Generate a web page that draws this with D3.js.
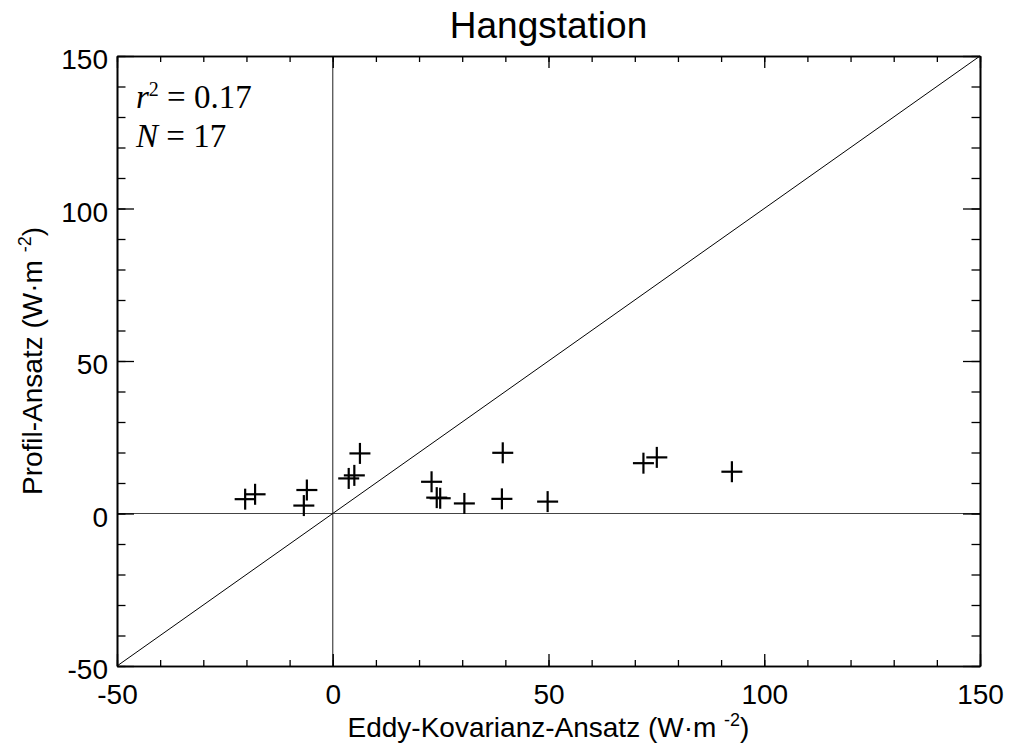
<!DOCTYPE html>
<html>
<head>
<meta charset="utf-8">
<script src="https://cdn.jsdelivr.net/npm/d3@7"></script>
<style>
html,body{margin:0;padding:0;background:#fff;}
svg{display:block;}
</style>
</head>
<body>
<svg id="chart" width="1010" height="745"></svg>
<script>
const eddyX = [-20.3, -18.0, -6.0, -6.7, 3.7, 5.0, 6.3, 22.9, 24.1, 24.9, 30.5, 39.4, 39.2, 49.8, 72.0, 75.1, 92.5];
const profilY = [4.7, 6.3, 7.7, 2.6, 11.5, 12.5, 19.7, 10.4, 5.2, 5.0, 3.3, 19.9, 4.8, 3.9, 16.5, 18.4, 13.7];
const majorTicks = [-50, 0, 50, 100, 150];
const minorTicks = d3.range(-50, 151, 10);
const titleText = "Hangstation";
const xTitle = "Eddy-Kovarianz-Ansatz (W·m";
const yTitle = "Profil-Ansatz (W·m";
const unitSup = "-2";
const statR2 = "0.17";
const statN = "17";

const L = 117, R = 980, T = 56, B = 666;
const svg = d3.select("#chart");
const x = d3.scaleLinear().domain([-50, 150]).range([L, R]);
const y = d3.scaleLinear().domain([-50, 150]).range([B, T]);
const font = "'Liberation Sans', Arial, sans-serif";

// zero lines and diagonal
svg.append("line").attr("x1", x(0)).attr("x2", x(0)).attr("y1", T).attr("y2", B)
  .attr("stroke", "#444").attr("stroke-width", 1.2);
svg.append("line").attr("x1", L).attr("x2", R).attr("y1", y(0)).attr("y2", y(0))
  .attr("stroke", "#444").attr("stroke-width", 1.2);
svg.append("line").attr("x1", x(-50)).attr("y1", y(-50)).attr("x2", x(150)).attr("y2", y(150))
  .attr("stroke", "#000").attr("stroke-width", 1);

function styleAxis(g){
  g.select(".domain").attr("stroke", "#000").attr("stroke-width", 1.6);
  g.selectAll(".tick line").attr("stroke", "#000").attr("stroke-width", 1.3);
}
const fmt = d => String(d);
const xMinLen = 6, xMajLen = 12, yMinLen = 8.5, yMajLen = 17;
// minor ticks
svg.append("g").attr("transform", `translate(0,${B})`)
  .call(d3.axisBottom(x).tickValues(minorTicks).tickSize(-xMinLen).tickSizeOuter(0).tickFormat(""))
  .call(styleAxis);
svg.append("g").attr("transform", `translate(0,${T})`)
  .call(d3.axisTop(x).tickValues(minorTicks).tickSize(-xMinLen).tickSizeOuter(0).tickFormat(""))
  .call(styleAxis);
svg.append("g").attr("transform", `translate(${L},0)`)
  .call(d3.axisLeft(y).tickValues(minorTicks).tickSize(-yMinLen).tickSizeOuter(0).tickFormat(""))
  .call(styleAxis);
svg.append("g").attr("transform", `translate(${R},0)`)
  .call(d3.axisRight(y).tickValues(minorTicks).tickSize(-yMinLen).tickSizeOuter(0).tickFormat(""))
  .call(styleAxis);

// major ticks with labels
const gxb = svg.append("g").attr("transform", `translate(0,${B})`)
  .call(d3.axisBottom(x).tickValues(majorTicks).tickSize(-xMajLen).tickSizeOuter(0).tickPadding(18).tickFormat(fmt))
  .call(styleAxis);
svg.append("g").attr("transform", `translate(0,${T})`)
  .call(d3.axisTop(x).tickValues(majorTicks).tickSize(-xMajLen).tickSizeOuter(0).tickFormat(""))
  .call(styleAxis);
const gyl = svg.append("g").attr("transform", `translate(${L},0)`)
  .call(d3.axisLeft(y).tickValues(majorTicks).tickSize(-yMajLen).tickSizeOuter(0).tickPadding(9).tickFormat(fmt))
  .call(styleAxis);
svg.append("g").attr("transform", `translate(${R},0)`)
  .call(d3.axisRight(y).tickValues(majorTicks).tickSize(-yMajLen).tickSizeOuter(0).tickFormat(""))
  .call(styleAxis);

[gxb, gyl].forEach(g => g.selectAll("text")
  .attr("font-family", font).attr("font-size", 28).attr("fill", "#000"));
gyl.selectAll("text").attr("dy", "0.45em");

// crosses
const hs = 10.5;
const pts = svg.append("g");
eddyX.forEach((v, i) => {
  const cx = x(v), cy = y(profilY[i]);
  pts.append("line").attr("x1", cx - hs).attr("x2", cx + hs).attr("y1", cy).attr("y2", cy)
    .attr("stroke", "#000").attr("stroke-width", 2.2);
  pts.append("line").attr("x1", cx).attr("x2", cx).attr("y1", cy - hs).attr("y2", cy + hs)
    .attr("stroke", "#000").attr("stroke-width", 2.2);
});

// title
svg.append("text").attr("x", (L + R) / 2).attr("y", 38).attr("text-anchor", "middle")
  .attr("font-family", font).attr("font-size", 37).attr("fill", "#000").text(titleText);

// x title
const xt = svg.append("text").attr("x", (L + R) / 2).attr("y", 737).attr("text-anchor", "middle")
  .attr("font-family", font).attr("font-size", 28).attr("fill", "#000");
xt.append("tspan").text(xTitle + " ");
xt.append("tspan").attr("font-size", 18).attr("dy", -11).text(unitSup);
xt.append("tspan").attr("dy", 11).text(")");

// y title
const yt = svg.append("text").attr("transform", `translate(42,${(T + B) / 2}) rotate(-90)`)
  .attr("text-anchor", "middle")
  .attr("font-family", font).attr("font-size", 28).attr("fill", "#000");
yt.append("tspan").text(yTitle + " ");
yt.append("tspan").attr("font-size", 18).attr("dy", -11).text(unitSup);
yt.append("tspan").attr("dy", 11).text(")");

// stats
const serif = "'Liberation Serif', 'Times New Roman', serif";
const s1 = svg.append("text").attr("x", 136).attr("y", 108)
  .attr("font-family", serif).attr("font-size", 33).attr("fill", "#000");
s1.append("tspan").attr("font-style", "italic").text("r");
s1.append("tspan").attr("font-size", 20).attr("dy", -12).text("2");
s1.append("tspan").attr("dy", 12).text(" = " + statR2);
const s2 = svg.append("text").attr("x", 136).attr("y", 147)
  .attr("font-family", serif).attr("font-size", 33).attr("fill", "#000");
s2.append("tspan").attr("font-style", "italic").text("N");
s2.append("tspan").text(" = " + statN);
</script>
</body>
</html>
